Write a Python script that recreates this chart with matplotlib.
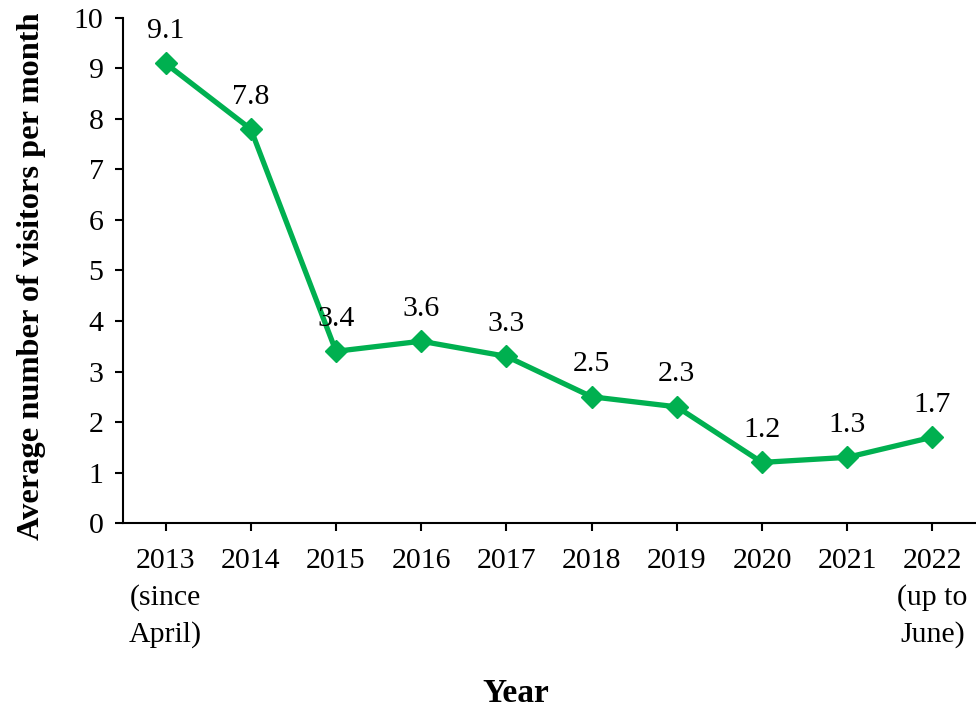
import matplotlib
matplotlib.use("Agg")
import matplotlib.pyplot as plt

categories = ["2013\n(since\nApril)", "2014", "2015", "2016", "2017", "2018", "2019", "2020", "2021", "2022\n(up to\nJune)"]
values = [9.1, 7.8, 3.4, 3.6, 3.3, 2.5, 2.3, 1.2, 1.3, 1.7]
yticks = list(range(0, 11))

plt.rcParams['font.family'] = ['Liberation Serif', 'DejaVu Serif']
green = "#00B050"

fig = plt.figure(figsize=(9.76, 7.11), dpi=100)
ax = fig.add_axes([0.126, 0.2644, 0.873, 0.7103])

x = list(range(len(values)))
ax.plot(x, values, color=green, lw=3.8, marker="D", markersize=11, zorder=3)
for xi, v in zip(x, values):
    ax.annotate(f"{v:.1f}", (xi, v), xytext=(0, 14), textcoords="offset points",
                ha="center", va="bottom", fontsize=21.5)

ax.set_xlim(-0.5, len(values) - 0.5)
ax.set_ylim(0, 10)
ax.set_yticks(yticks)
ax.set_yticklabels([str(t) for t in yticks], fontsize=21.5)
ax.set_xticks(x)
ax.set_xticklabels(categories, fontsize=21.5, linespacing=1.5)
ax.tick_params(axis="both", direction="out", length=6, width=1.5, color="black")
ax.tick_params(axis="x", pad=12)
ax.tick_params(axis="y", pad=8)
for s in ["top", "right"]:
    ax.spines[s].set_visible(False)
for s in ["left", "bottom"]:
    ax.spines[s].set_linewidth(1.5)

fig.text(0.032, 0.612, "Average number of visitors per month", fontsize=23.3, fontweight="bold",
         ha="center", va="center", rotation=90)
fig.text(0.5281, 0.025, "Year", fontsize=24, fontweight="bold", ha="center", va="center")

fig.savefig("out.png", dpi=100)
